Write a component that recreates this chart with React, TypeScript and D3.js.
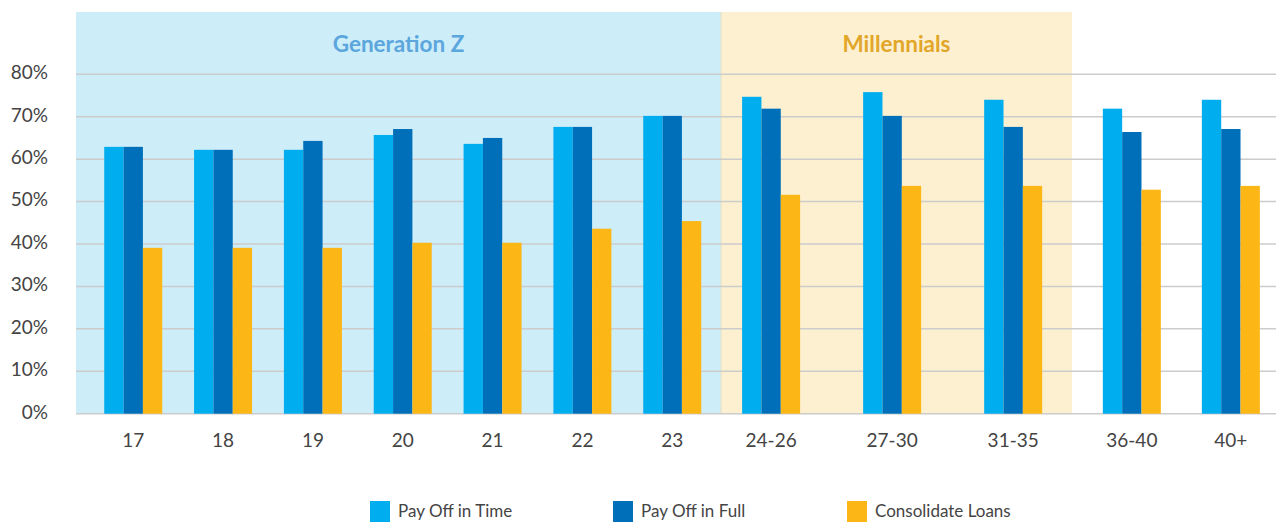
import React from 'react';
import * as d3 from 'd3';

// age groups, split by generation
const genZAges = ['17', '18', '19', '20', '21', '22', '23'];
const millennialAges = ['24-26', '27-30', '31-35'];
const olderAges = ['36-40', '40+'];
const ageGroups = [...genZAges, ...millennialAges, ...olderAges];

// percent of respondents, per age group
const payOffInTime = [62.9, 62.2, 62.2, 65.7, 63.6, 67.6, 70.2, 74.7, 75.8, 74.0, 71.9, 74.0];
const payOffInFull = [62.9, 62.2, 64.3, 67.1, 65.0, 67.6, 70.2, 71.9, 70.2, 67.6, 66.4, 67.1];
const consolidateLoans = [39.1, 39.1, 39.1, 40.3, 40.3, 43.6, 45.4, 51.6, 53.7, 53.7, 52.8, 53.7];

const seriesNames = ['Pay Off in Time', 'Pay Off in Full', 'Consolidate Loans'];
const seriesColors = ['#00adee', '#006fb9', '#fcb716'];
const yTicks = [0, 10, 20, 30, 40, 50, 60, 70, 80];

const W = 1276;
const H = 523;
const left = 76;
const right = 1276;
const top = 12;
const font = 'Lato, "Open Sans", sans-serif';

const App = () => {
  const y = d3.scaleLinear().domain([0, 80]).range([413.7, 74.3]);

  // each generation block gets its own point scale, so groups sit unevenly like the original
  const sections = [
    { name: 'Generation Z', ages: genZAges, x0: left, x1: 721, padding: 0.59, align: 0.54, fill: '#cdedf9', color: '#5ba6dc' },
    { name: 'Millennials', ages: millennialAges, x0: 721, x1: 1072, padding: 0.45, align: 0.46, fill: '#fdf0d1', color: '#e2a629' },
    { name: '', ages: olderAges, x0: 1072, x1: right, padding: 0.53, align: 0.57, fill: 'none', color: '' }
  ];

  const centers = {};
  sections.forEach(s => {
    const sc = d3.scalePoint().domain(s.ages).range([s.x0, s.x1]).padding(s.padding).align(s.align);
    s.ages.forEach(a => (centers[a] = sc(a)));
  });

  const sub = d3.scaleBand().domain(d3.range(3)).range([-29, 29]);
  const table = ageGroups.map((age, i) => ({
    age,
    values: [payOffInTime[i], payOffInFull[i], consolidateLoans[i]]
  }));

  const legendX = [370, 613, 847];

  return (
    <svg width={W} height={H} style={{ position: 'absolute', left: 0, top: 0, background: 'white' }}>
      {/* generation bands */}
      {sections.map(s => s.fill !== 'none' && (
        <g key={s.name}>
          <rect x={s.x0} y={top} width={s.x1 - s.x0} height={y(0) - top} fill={s.fill} />
          <text
            x={(s.x0 + s.x1) / 2}
            y={46}
            textAnchor="middle"
            dominantBaseline="middle"
            fontFamily={font}
            fontWeight="bold"
            fontSize={22.5}
            fill={s.color}
          >
            {s.name}
          </text>
        </g>
      ))}
      <line x1={721} x2={721} y1={top} y2={y(0)} stroke="#e3e6cf" strokeWidth={1.5} />

      {/* grid + y labels */}
      {yTicks.map(t => (
        <g key={t}>
          <line x1={left} x2={right} y1={y(t)} y2={y(t)} stroke="#cccccc" strokeWidth={1.5} />
          <text
            x={48}
            y={y(t)}
            textAnchor="end"
            dominantBaseline="middle"
            fontFamily={font}
            fontSize={19}
            fill="#444"
          >
            {t}%
          </text>
        </g>
      ))}

      {/* bars */}
      {table.map(d => (
        <g key={d.age} transform={`translate(${centers[d.age]},0)`}>
          {d.values.map((v, k) => (
            <rect
              key={k}
              x={sub(k)}
              y={y(v)}
              width={sub.bandwidth()}
              height={y(0) - y(v)}
              fill={seriesColors[k]}
            />
          ))}
          <text
            x={0}
            y={442}
            textAnchor="middle"
            dominantBaseline="middle"
            fontFamily={font}
            fontSize={19}
            fill="#444"
          >
            {d.age}
          </text>
        </g>
      ))}

      {/* legend */}
      {seriesNames.map((n, k) => (
        <g key={n} transform={`translate(${legendX[k]},501)`}>
          <rect width={20} height={21} fill={seriesColors[k]} />
          <text x={28} y={12} dominantBaseline="middle" fontFamily={font} fontSize={17} fill="#444">
            {n}
          </text>
        </g>
      ))}
    </svg>
  );
};

export default App;
